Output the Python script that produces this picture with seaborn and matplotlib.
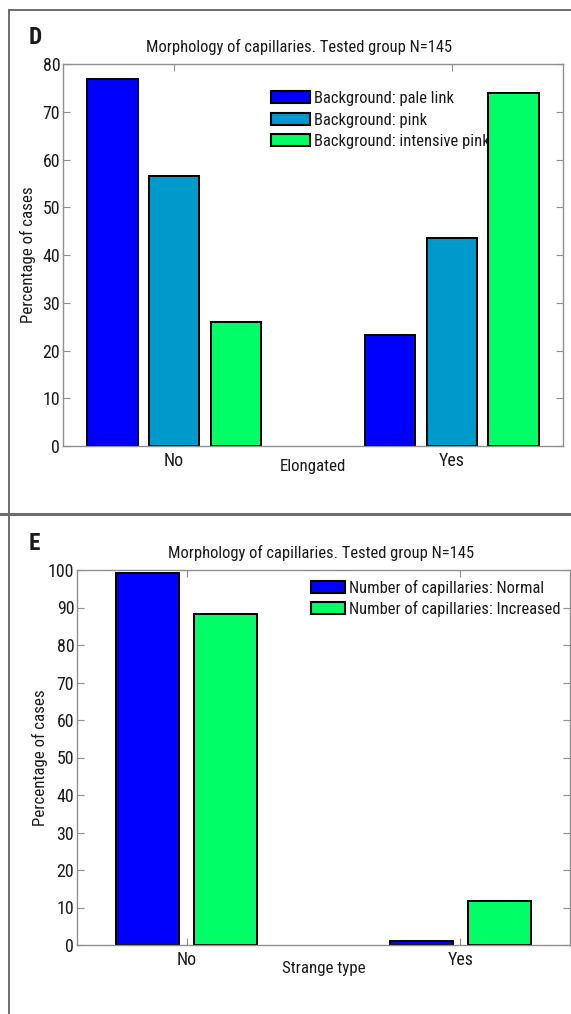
import matplotlib
matplotlib.use("Agg")
import matplotlib.pyplot as plt
from matplotlib import font_manager
from matplotlib.lines import Line2D
from matplotlib.textpath import TextPath
from matplotlib.font_manager import FontProperties
import seaborn as sns
import pandas as pd

# ---------------- data ----------------
d_categories = ["No", "Yes"]
d_series = ["Background: pale link", "Background: pink", "Background: intensive pink"]
d_pale_link = [76.8, 23.2]
d_pink = [56.5, 43.5]
d_intensive_pink = [26.0, 74.0]
d_xlabel = "Elongated"
d_yticks = [0, 10, 20, 30, 40, 50, 60, 70, 80]

e_categories = ["No", "Yes"]
e_series = ["Number of capillaries: Normal", "Number of capillaries: Increased"]
e_normal = [99.3, 1.0]
e_increased = [88.3, 11.7]
e_xlabel = "Strange type"
e_yticks = [0, 10, 20, 30, 40, 50, 60, 70, 80, 90, 100]

title_text = "Morphology of capillaries. Tested group N=145"
ylabel_text = "Percentage of cases"

col_blue = "#0000FF"
col_teal = "#0099CC"
col_green = "#00FF66"

# ---------------- fonts ----------------
sns.set_theme(style="white")

FAM, STRETCH = "DejaVu Sans", "normal"
cands = []
for f in font_manager.fontManager.ttflist:
    fn = f.fname.lower()
    if f.style != "normal":
        continue
    if f.weight not in (400, "normal", "regular"):
        continue
    narrow = ("narrow" in fn or "condensed" in fn or "cond" in fn
              or str(f.stretch) in ("condensed", "semi-condensed", "extra-condensed", "ultra-condensed"))
    if narrow:
        pri = 5
        if "liberationsansnarrow" in fn.replace("-", "").replace("_", ""):
            pri = 0
        elif "roboto" in fn:
            pri = 1
        elif "opensans" in fn.replace(" ", "").replace("_", ""):
            pri = 2
        elif "noto" in fn:
            pri = 3
        elif "dejavu" in fn:
            pri = 4
        cands.append((pri, f.name, f.stretch))
if cands:
    cands.sort(key=lambda c: c[0])
    FAM, STRETCH = cands[0][1], cands[0][2]

plt.rcParams["font.family"] = [FAM, "DejaVu Sans"]
plt.rcParams["font.stretch"] = STRETCH

# size fonts so that the title spans ~305 px like the reference
_fp = FontProperties(family=FAM, stretch=STRETCH, size=10)
_w10 = TextPath((0, 0), title_text, prop=_fp).get_extents().width * 100 / 72  # px at 10pt, 100 dpi
fs_w = 10 * 305 / _w10
FS = min(13.2, fs_w)

FS_TICK = FS * 1.08
FS_TEXT = FS * 1.02
FS_LEG = FS
FS_TITLE = FS
FS_PANEL = FS * 1.4
fs_px = FS_LEG * 100 / 72

W, H = 571, 1014
fig = plt.figure(figsize=(W / 100, H / 100), dpi=100)
fig.patch.set_facecolor("white")


def px_axes(l, r, t, b):
    return fig.add_axes([l / W, (H - b) / H, (r - l) / W, (b - t) / H])


def long_df(cats, series, cols):
    rows = []
    for s, vals in zip(series, cols):
        for c, v in zip(cats, vals):
            rows.append({"cat": c, "series": s, "value": v})
    return pd.DataFrame(rows)


def style_axes(ax, yticks, ymax, xlabel, lpx, rpx, tpx, bpx, title_x_px, ylab_x_px, xlab_y_px):
    axw = rpx - lpx
    axh = bpx - tpx
    ax.set_xlim(-0.4, 1.4)
    ax.set_ylim(0, ymax)
    ax.set_yticks(yticks)
    ax.set_yticklabels([str(v) for v in yticks])
    ax.grid(False)
    for sp in ax.spines.values():
        sp.set_visible(True)
        sp.set_color("#8f8f8f")
        sp.set_linewidth(1.0)
    ax.tick_params(axis="both", which="both", direction="in", length=5, width=0.8,
                   color="#8f8f8f", labelcolor="#1a1a1a", labelsize=FS_TICK,
                   top=True, right=True, bottom=True, left=True)
    ax.tick_params(axis="y", pad=2)
    ax.tick_params(axis="x", pad=4)
    ax.set_xlabel(xlabel, fontsize=FS_TEXT, color="#1a1a1a")
    ax.xaxis.set_label_coords(0.5, (bpx - xlab_y_px) / axh)
    ax.xaxis.label.set_va("center")
    ax.set_ylabel(ylabel_text, fontsize=FS_TEXT, color="#1a1a1a")
    ax.yaxis.set_label_coords((ylab_x_px - lpx) / axw, 0.5)
    ax.yaxis.label.set_va("center")
    ax.set_title(title_text, fontsize=FS_TITLE, color="#1a1a1a", pad=0,
                 x=(title_x_px - lpx) / axw, y=1 + 17 / axh, va="center")


def fix_legend(ax, lpx, bpx, axw, axh, hx, ty, handle_px, row_px):
    sns.move_legend(ax, "upper left", bbox_to_anchor=((hx - lpx) / axw, (bpx - ty) / axh),
                    frameon=False, title=None, fontsize=FS_LEG, borderpad=0,
                    borderaxespad=0, handlelength=handle_px / fs_px, handleheight=12 / fs_px,
                    handletextpad=4 / fs_px, labelspacing=max(0.0, (row_px - 0.9 * fs_px) / fs_px))
    leg = ax.get_legend()
    for h in leg.legend_handles:
        h.set_edgecolor("black")
        h.set_linewidth(1.5)
    for t in leg.get_texts():
        t.set_color("#1a1a1a")
    leg.set_zorder(0.5)


# ---------------- panel D ----------------
dL, dR, dT, dB = 63, 563, 64, 446
axd = px_axes(dL, dR, dT, dB)
df_d = long_df(d_categories, d_series, [d_pale_link, d_pink, d_intensive_pink])
sns.barplot(data=df_d, x="cat", y="value", hue="series", hue_order=d_series,
            palette=[col_blue, col_teal, col_green], width=0.667, gap=0.18,
            edgecolor="black", linewidth=1.4, saturation=1, errorbar=None, ax=axd)
style_axes(axd, d_yticks, 80, d_xlabel, dL, dR, dT, dB, 299, 28, 466)
fix_legend(axd, dL, dB, dR - dL, dB - dT, 271, 91, 39, 21.5)

# ---------------- panel E ----------------
eL, eR, eT, eB = 77, 570, 570, 945
axe = px_axes(eL, eR, eT, eB)
df_e = long_df(e_categories, e_series, [e_normal, e_increased])
sns.barplot(data=df_e, x="cat", y="value", hue="series", hue_order=e_series,
            palette=[col_blue, col_green], width=0.566, gap=0.19,
            edgecolor="black", linewidth=1.4, saturation=1, errorbar=None, ax=axe)
style_axes(axe, e_yticks, 100, e_xlabel, eL, eR, eT, eB, 321, 40, 968)
fix_legend(axe, eL, eB, eR - eL, eB - eT, 311, 580, 34, 20)

# ---------------- panel frames and letters ----------------
fc = "#555555"
fig.add_artist(Line2D([9 / W, 9 / W], [0, 1 - 10 / H], transform=fig.transFigure, color=fc, lw=1.2))
fig.add_artist(Line2D([9 / W, 1], [1 - 10 / H, 1 - 10 / H], transform=fig.transFigure, color=fc, lw=1.2))
fig.add_artist(Line2D([0, 1], [1 - 514 / H, 1 - 514 / H], transform=fig.transFigure, color="#6e6e6e", lw=2.2))

fig.text(29 / W, 1 - 37 / H, "D", fontsize=FS_PANEL, fontweight="bold", ha="left", va="center", color="#1a1a1a")
fig.text(29 / W, 1 - 543 / H, "E", fontsize=FS_PANEL, fontweight="bold", ha="left", va="center", color="#1a1a1a")

fig.savefig("out.png", dpi=100, facecolor="white")
